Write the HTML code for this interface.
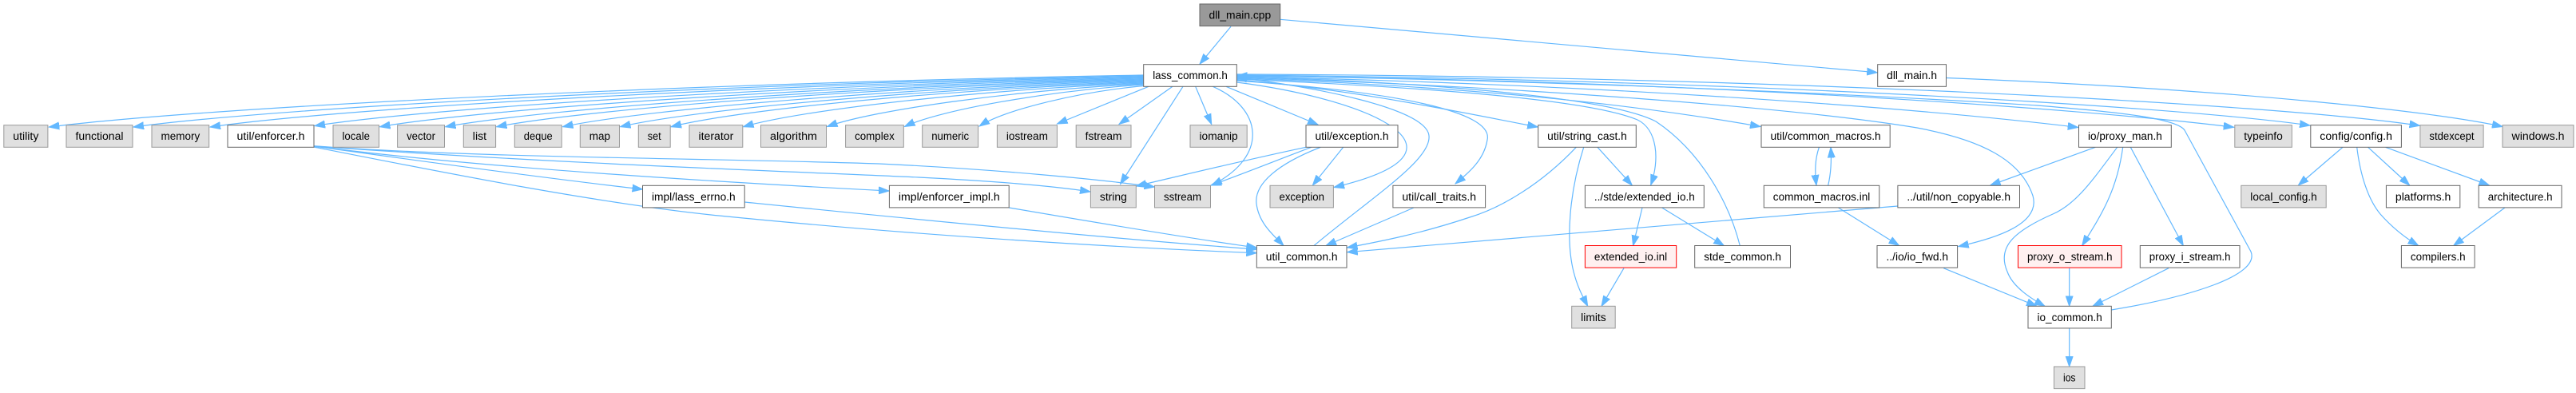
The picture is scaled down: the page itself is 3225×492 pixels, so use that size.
<!DOCTYPE html>
<html><head><meta charset="utf-8"><style>
html,body{margin:0;padding:0;background:#fff;}
svg{display:block;}
.e{fill:none;stroke:#63b8ff;stroke-width:1.2;}
.g{fill:#e0e0e0;stroke:#999;stroke-width:1;}
.w{fill:#fff;stroke:#666;stroke-width:1;}
.r{fill:#fff0f0;stroke:#f00;stroke-width:1;}
.d{fill:#999;stroke:#666;stroke-width:1;}
text{font-family:"Liberation Sans","DejaVu Sans",sans-serif;font-size:13.5px;fill:#000;text-anchor:middle;}
</style></head><body>
<svg width="3225" height="492" viewBox="0 0 3225 492" xmlns="http://www.w3.org/2000/svg">
<defs><marker id="a" markerWidth="14" markerHeight="10" refX="13" refY="5" orient="auto" markerUnits="userSpaceOnUse"><path d="M0,0.5 L13,5 L0,9.5 z" fill="#63b8ff" stroke="#63b8ff" stroke-width="1"/></marker></defs>
<g marker-end="url(#a)">
<path class="e" d="M1541,33.3 L1502,80.2"/>
<path class="e" d="M1602.7,24.3 C1900,50 2150,72 2350.2,90.8"/>
<path class="e" d="M2436.5,97.5 C2800,112 3050,140 3133,158.5"/>
<path class="e" d="M1431.7,94 C883.5,103.8 266.9,133 61.3,159"/>
<path class="e" d="M1431.7,95 C925.8,104.6 356.7,133.4 167,159"/>
<path class="e" d="M1431.7,96 C964.2,105.5 438.3,133.8 263,159"/>
<path class="e" d="M1431.7,97 C1016.6,106.1 549.7,133.3 394,157.5"/>
<path class="e" d="M1431.7,98 C1049.2,107.1 618.9,134.4 475.5,158.7"/>
<path class="e" d="M1431.7,99 C1082,108 688.6,134.8 557.5,158.7"/>
<path class="e" d="M1431.7,100 C1107.6,108.8 743,135.2 621.5,158.7"/>
<path class="e" d="M1431.7,101 C1140.8,109.7 813.6,135.6 704.5,158.7"/>
<path class="e" d="M1431.7,102 C1169.6,110.5 874.8,136 776.5,158.7"/>
<path class="e" d="M1431.7,103 C1195,111.4 928.8,136.4 840,158.7"/>
<path class="e" d="M1431.7,104 C1231.2,112.2 1005.7,136.8 930.5,158.7"/>
<path class="e" d="M1431.7,105 C1273.2,113 1094.9,137.1 1035.5,158.5"/>
<path class="e" d="M1431.7,106 C1312,113.9 1177.4,137.5 1132.5,158.5"/>
<path class="e" d="M1431.7,107.5 C1349.4,115.1 1256.9,137.8 1226,158"/>
<path class="e" d="M1438,108.3 L1323.5,155"/>
<path class="e" d="M1468,108.3 L1401,155.5"/>
<path class="e" d="M1481,108.3 L1402.6,230.5"/>
<path class="e" d="M1496.7,108.3 L1516.7,155.5"/>
<path class="e" d="M1518.3,108.3 C1580,135 1590,195 1517,232"/>
<path class="e" d="M1535,108.3 L1650,156"/>
<path class="e" d="M1548.3,103 C1720,125 1860,190 1670,234.5"/>
<path class="e" d="M1645,307.5 C1720,245 1792,200 1789,170 C1786,135 1640,108 1548.3,97"/>
<path class="e" d="M1548.3,101 C1750,115 1870,140 1862,175 C1858,200 1840,215 1822,230"/>
<path class="e" d="M1548.3,100 C1700,112 1850,145 1925.2,159"/>
<path class="e" d="M1548.3,99 C1800,110 1990,125 2050,150 C2075,162 2078,200 2066.7,231.5"/>
<path class="e" d="M2178.3,307.5 C2165,255 2130,190 2073,152 C2000,115 1700,100 1548.3,96"/>
<path class="e" d="M1548.3,98 C1900,110 2100,140 2204,158.5"/>
<path class="e" d="M1548.3,97 C1900,108 2250,135 2400,160 C2480,175 2530,200 2545,245 C2555,280 2500,298 2451.7,308.5"/>
<path class="e" d="M1548.3,96 C2000,105 2400,135 2601.7,159.5"/>
<path class="e" d="M1548.3,95 C2100,100 2600,135 2796.7,159.3"/>
<path class="e" d="M1548.3,94 C2100,98 2700,130 2892,157"/>
<path class="e" d="M1548.3,93 C2200,95 2850,130 3029.5,157.3"/>
<path class="e" d="M2643.3,388 C2740,372 2830,345 2818,315 L2735,163 C2725,148 2650,140 2550,132 C2200,110 1800,98 1548.3,95"/>
<path class="e" d="M393,182.7 C600,198 900,198 1100,205 C1250,212 1380,225 1445.5,234"/>
<path class="e" d="M393,183 C700,205 1000,215 1150,222 C1250,227 1320,233 1365,240"/>
<path class="e" d="M393,183 C550,205 700,225 804.5,237"/>
<path class="e" d="M393,183 C600,210 900,228 1113,239"/>
<path class="e" d="M393,184 C550,215 750,255 900,270 C1150,295 1400,310 1573.3,316.7"/>
<path class="e" d="M932.2,253 C1100,270 1400,300 1573.3,312"/>
<path class="e" d="M1263.2,260 C1380,280 1500,300 1573.3,310"/>
<path class="e" d="M1635,184.3 C1560,200 1470,222 1422.3,233"/>
<path class="e" d="M1641.7,184.3 C1600,200 1550,220 1516,232"/>
<path class="e" d="M1681.7,184.3 L1643.3,232"/>
<path class="e" d="M1653.3,184.3 C1600,205 1570,230 1573,255 C1576,280 1595,295 1607,307.5"/>
<path class="e" d="M1770,260 L1660,307.5"/>
<path class="e" d="M1973.3,184.3 C1930,230 1880,260 1840,272 C1780,292 1730,302 1686.5,310"/>
<path class="e" d="M1982.7,184.3 C1965,240 1960,300 1970,340 C1975,360 1982,372 1987.7,383.3"/>
<path class="e" d="M2000,184.3 L2043.3,232"/>
<path class="e" d="M2056,260 L2044.5,307.5"/>
<path class="e" d="M2080.7,260 L2158.3,307.5"/>
<path class="e" d="M2033,335.7 L2005,383.3"/>
<path class="e" d="M2375.9,258 L1686.7,315.7"/>
<path class="e" d="M2277.4,184.3 C2272,200 2272,215 2274,232"/>
<path class="e" d="M2288.7,232 C2292,218 2293,200 2292,184.5"/>
<path class="e" d="M2301.5,260 L2377.6,307.5"/>
<path class="e" d="M2623.3,184.3 L2491.7,232"/>
<path class="e" d="M2650.7,184.3 C2620,225 2600,255 2570,268 C2520,290 2500,310 2513,340 C2520,360 2545,375 2560,383.3"/>
<path class="e" d="M2657.7,184.3 C2650,240 2630,270 2606.7,307.5"/>
<path class="e" d="M2667.3,184.3 L2733.3,307.5"/>
<path class="e" d="M2433.3,335.7 L2550,383.3"/>
<path class="e" d="M2590.7,335.7 L2590.7,383.3"/>
<path class="e" d="M2715,335.7 L2620,383.3"/>
<path class="e" d="M2590.7,411 L2590.7,459"/>
<path class="e" d="M2933,184.3 L2877.3,232"/>
<path class="e" d="M2964.6,184.3 L3016.7,232"/>
<path class="e" d="M2986.6,184.3 L3116.4,232"/>
<path class="e" d="M2950.7,184.3 C2955,220 2965,250 2980,268 C2995,285 3010,297 3027.7,307.5"/>
<path class="e" d="M3135.9,260 L3071.7,307.5"/>
</g>

<!-- rank 0 -->
<rect class="d" x="1502" y="5" width="100.7" height="27.6"/><text x="1552.35" y="23.5" textLength="77.7" lengthAdjust="spacingAndGlyphs">dll_main.cpp</text>
<!-- rank 1 -->
<rect class="w" x="1431.7" y="80.7" width="116.6" height="27.6"/><text x="1490" y="99.2" textLength="93.6" lengthAdjust="spacingAndGlyphs">lass_common.h</text>
<rect class="w" x="2350.7" y="80.7" width="85.8" height="27.6"/><text x="2393.6" y="99.2" textLength="62.8" lengthAdjust="spacingAndGlyphs">dll_main.h</text>
<!-- rank 2 -->
<rect class="g" x="4.8" y="156.7" width="55.1" height="27.6"/><text x="32.35" y="175.2" textLength="32.1" lengthAdjust="spacingAndGlyphs">utility</text>
<rect class="g" x="83" y="156.7" width="83" height="27.6"/><text x="124.5" y="175.2" textLength="60" lengthAdjust="spacingAndGlyphs">functional</text>
<rect class="g" x="190" y="156.7" width="71.7" height="27.6"/><text x="225.85" y="175.2" textLength="48.7" lengthAdjust="spacingAndGlyphs">memory</text>
<rect class="w" x="285" y="156.7" width="108" height="27.6"/><text x="339" y="175.2" textLength="85" lengthAdjust="spacingAndGlyphs">util/enforcer.h</text>
<rect class="g" x="417" y="156.7" width="57.5" height="27.6"/><text x="445.75" y="175.2" textLength="34.5" lengthAdjust="spacingAndGlyphs">locale</text>
<rect class="g" x="497.6" y="156.7" width="58.9" height="27.6"/><text x="527.05" y="175.2" textLength="35.9" lengthAdjust="spacingAndGlyphs">vector</text>
<rect class="g" x="580.3" y="156.7" width="40.3" height="27.6"/><text x="600.45" y="175.2" textLength="17.3" lengthAdjust="spacingAndGlyphs">list</text>
<rect class="g" x="644.3" y="156.7" width="58.9" height="27.6"/><text x="673.75" y="175.2" textLength="35.9" lengthAdjust="spacingAndGlyphs">deque</text>
<rect class="g" x="726.3" y="156.7" width="49.2" height="27.6"/><text x="750.9" y="175.2" textLength="26.2" lengthAdjust="spacingAndGlyphs">map</text>
<rect class="g" x="799.3" y="156.7" width="39.9" height="27.6"/><text x="819.25" y="175.2" textLength="16.9" lengthAdjust="spacingAndGlyphs">set</text>
<rect class="g" x="863" y="156.7" width="66.8" height="27.6"/><text x="896.4" y="175.2" textLength="43.8" lengthAdjust="spacingAndGlyphs">iterator</text>
<rect class="g" x="952.5" y="156.7" width="82" height="27.6"/><text x="993.5" y="175.2" textLength="59" lengthAdjust="spacingAndGlyphs">algorithm</text>
<rect class="g" x="1058.6" y="156.7" width="72.7" height="27.6"/><text x="1094.95" y="175.2" textLength="49.7" lengthAdjust="spacingAndGlyphs">complex</text>
<rect class="g" x="1154.7" y="156.7" width="69.9" height="27.6"/><text x="1189.65" y="175.2" textLength="46.9" lengthAdjust="spacingAndGlyphs">numeric</text>
<rect class="g" x="1248.4" y="156.7" width="75" height="27.6"/><text x="1285.9" y="175.2" textLength="52" lengthAdjust="spacingAndGlyphs">iostream</text>
<rect class="g" x="1347.2" y="156.7" width="68.8" height="27.6"/><text x="1381.6" y="175.2" textLength="45.8" lengthAdjust="spacingAndGlyphs">fstream</text>
<rect class="g" x="1490" y="156.7" width="71.2" height="27.6"/><text x="1525.6" y="175.2" textLength="48.2" lengthAdjust="spacingAndGlyphs">iomanip</text>
<rect class="w" x="1635" y="156.7" width="115" height="27.6"/><text x="1692.5" y="175.2" textLength="92" lengthAdjust="spacingAndGlyphs">util/exception.h</text>
<rect class="w" x="1925.7" y="156.7" width="122.6" height="27.6"/><text x="1987" y="175.2" textLength="99.6" lengthAdjust="spacingAndGlyphs">util/string_cast.h</text>
<rect class="w" x="2205" y="156.7" width="161.2" height="27.6"/><text x="2285.6" y="175.2" textLength="138.2" lengthAdjust="spacingAndGlyphs">util/common_macros.h</text>
<rect class="w" x="2602.5" y="156.7" width="115.8" height="27.6"/><text x="2660.4" y="175.2" textLength="92.8" lengthAdjust="spacingAndGlyphs">io/proxy_man.h</text>
<rect class="g" x="2797.8" y="156.7" width="71.5" height="27.6"/><text x="2833.55" y="175.2" textLength="48.5" lengthAdjust="spacingAndGlyphs">typeinfo</text>
<rect class="w" x="2892.8" y="156.7" width="113.6" height="27.6"/><text x="2949.6" y="175.2" textLength="90.6" lengthAdjust="spacingAndGlyphs">config/config.h</text>
<rect class="g" x="3029.9" y="156.7" width="79.2" height="27.6"/><text x="3069.5" y="175.2" textLength="56.2" lengthAdjust="spacingAndGlyphs">stdexcept</text>
<rect class="g" x="3133" y="156.7" width="89" height="27.6"/><text x="3177.5" y="175.2" textLength="66" lengthAdjust="spacingAndGlyphs">windows.h</text>
<!-- rank 3 -->
<rect class="w" x="804.5" y="232.3" width="127.7" height="27.6"/><text x="868.35" y="250.8" textLength="104.7" lengthAdjust="spacingAndGlyphs">impl/lass_errno.h</text>
<rect class="w" x="1113.4" y="232.3" width="149.8" height="27.6"/><text x="1188.3" y="250.8" textLength="126.8" lengthAdjust="spacingAndGlyphs">impl/enforcer_impl.h</text>
<rect class="g" x="1365.4" y="232.3" width="56.9" height="27.6"/><text x="1393.85" y="250.8" textLength="33.9" lengthAdjust="spacingAndGlyphs">string</text>
<rect class="g" x="1445.5" y="232.3" width="70" height="27.6"/><text x="1480.5" y="250.8" textLength="47" lengthAdjust="spacingAndGlyphs">sstream</text>
<rect class="g" x="1590" y="232.3" width="79.4" height="27.6"/><text x="1629.7" y="250.8" textLength="56.4" lengthAdjust="spacingAndGlyphs">exception</text>
<rect class="w" x="1743.9" y="232.3" width="115.7" height="27.6"/><text x="1801.75" y="250.8" textLength="92.7" lengthAdjust="spacingAndGlyphs">util/call_traits.h</text>
<rect class="w" x="1984.4" y="232.3" width="148.9" height="27.6"/><text x="2058.85" y="250.8" textLength="125.9" lengthAdjust="spacingAndGlyphs">../stde/extended_io.h</text>
<rect class="w" x="2208.3" y="232.3" width="144.5" height="27.6"/><text x="2280.55" y="250.8" textLength="121.5" lengthAdjust="spacingAndGlyphs">common_macros.inl</text>
<rect class="w" x="2375.9" y="232.3" width="152.6" height="27.6"/><text x="2452.2" y="250.8" textLength="129.6" lengthAdjust="spacingAndGlyphs">../util/non_copyable.h</text>
<rect class="g" x="2805.8" y="232.3" width="106.4" height="27.6"/><text x="2859" y="250.8" textLength="83.4" lengthAdjust="spacingAndGlyphs">local_config.h</text>
<rect class="w" x="2987.4" y="232.3" width="92.4" height="27.6"/><text x="3033.6" y="250.8" textLength="69.4" lengthAdjust="spacingAndGlyphs">platforms.h</text>
<rect class="w" x="3103.2" y="232.3" width="103.8" height="27.6"/><text x="3155.1" y="250.8" textLength="80.8" lengthAdjust="spacingAndGlyphs">architecture.h</text>
<!-- rank 4 -->
<rect class="w" x="1573.3" y="307.5" width="112.7" height="27.6"/><text x="1629.65" y="326" textLength="89.7" lengthAdjust="spacingAndGlyphs">util_common.h</text>
<rect class="r" x="1984.4" y="307.5" width="114.3" height="27.6"/><text x="2041.55" y="326" textLength="91.3" lengthAdjust="spacingAndGlyphs">extended_io.inl</text>
<rect class="w" x="2121.7" y="307.5" width="119.8" height="27.6"/><text x="2181.6" y="326" textLength="96.8" lengthAdjust="spacingAndGlyphs">stde_common.h</text>
<rect class="w" x="2350" y="307.5" width="100.6" height="27.6"/><text x="2400.3" y="326" textLength="77.6" lengthAdjust="spacingAndGlyphs">../io/io_fwd.h</text>
<rect class="r" x="2526.5" y="307.5" width="129.5" height="27.6"/><text x="2591.25" y="326" textLength="106.5" lengthAdjust="spacingAndGlyphs">proxy_o_stream.h</text>
<rect class="w" x="2679.3" y="307.5" width="124.7" height="27.6"/><text x="2741.65" y="326" textLength="101.7" lengthAdjust="spacingAndGlyphs">proxy_i_stream.h</text>
<rect class="w" x="3006.4" y="307.5" width="91.7" height="27.6"/><text x="3052.25" y="326" textLength="68.7" lengthAdjust="spacingAndGlyphs">compilers.h</text>
<!-- rank 5 -->
<rect class="g" x="1967.7" y="383.3" width="54.5" height="27.6"/><text x="1994.95" y="401.8" textLength="31.5" lengthAdjust="spacingAndGlyphs">limits</text>
<rect class="w" x="2539" y="383.3" width="104.3" height="27.6"/><text x="2591.15" y="401.8" textLength="81.3" lengthAdjust="spacingAndGlyphs">io_common.h</text>
<!-- rank 6 -->
<rect class="g" x="2571.5" y="459" width="38.5" height="27.6"/><text x="2590.75" y="477.5" textLength="15.5" lengthAdjust="spacingAndGlyphs">ios</text>
</svg>
</body></html>
